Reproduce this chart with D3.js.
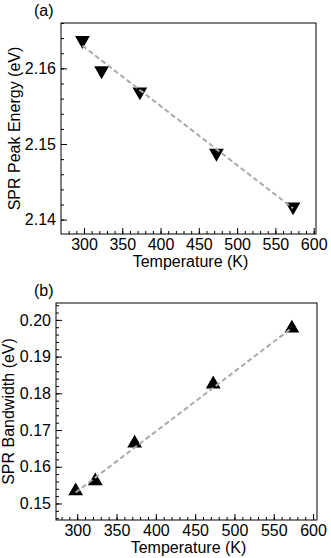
<!DOCTYPE html>
<html>
<head>
<meta charset="utf-8">
<script src="https://cdn.jsdelivr.net/npm/d3@7"></script>
<style>
  body { margin: 0; background: #fff; }
  svg text { font-family: "Liberation Sans", Arial, sans-serif; fill: #000; }
</style>
</head>
<body>
<svg id="fig" width="331" height="558"></svg>
<script>
// Data
var temps = [298, 323, 373, 473, 573];
var peakEnergy = [2.1637, 2.1597, 2.1569, 2.1488, 2.1417];
var bandwidth = [0.1534, 0.1561, 0.1664, 0.1825, 0.1977];
// Dashed fit lines (end points)
var fitPeakT = [298, 573], fitPeak = [2.1630, 2.1415];
var fitBandT = [298, 573], fitBand = [0.1530, 0.1978];
// Tick labels
var xTicks = [300, 350, 400, 450, 500, 550, 600];
var peakTicks = [2.14, 2.15, 2.16];
var bandTicks = [0.15, 0.16, 0.17, 0.18, 0.19, 0.20];

var svg = d3.select("#fig");

// Draws one panel of the figure
function drawPanel(opt) {
    var g = svg.append("g");

    var xScale = d3.scaleLinear().domain(opt.xDomain).range([opt.left, opt.right]);
    var yScale = d3.scaleLinear().domain(opt.yDomain).range([opt.bottom, opt.top]);

    // Minor ticks on x
    g.append("g")
     .attr("transform", "translate(0," + opt.bottom + ")")
     .call(d3.axisBottom(xScale).tickValues(d3.range(280, 601, 10)).tickSize(-3).tickSizeOuter(0).tickFormat(""))
     .call(function(a) { a.select(".domain").remove(); });

    // Major ticks on x
    g.append("g")
     .attr("transform", "translate(0," + opt.bottom + ")")
     .call(d3.axisBottom(xScale).tickValues(xTicks).tickSize(-6).tickSizeOuter(0).tickPadding(5))
     .call(function(a) {
         a.select(".domain").remove();
         a.selectAll("text").style("font-size", "16px");
     });

    // Minor ticks on y
    g.append("g")
     .attr("transform", "translate(" + opt.left + ",0)")
     .call(d3.axisLeft(yScale).tickValues(opt.yMinor).tickSize(-3).tickSizeOuter(0).tickFormat(""))
     .call(function(a) { a.select(".domain").remove(); });

    // Major ticks on y
    g.append("g")
     .attr("transform", "translate(" + opt.left + ",0)")
     .call(d3.axisLeft(yScale).tickValues(opt.yTicks).tickSize(-6).tickSizeOuter(0).tickPadding(5).tickFormat(d3.format(opt.yFormat)))
     .call(function(a) {
         a.select(".domain").remove();
         a.selectAll("text").style("font-size", "16px");
     });

    g.selectAll(".tick line").attr("stroke", "#000");

    // Frame
    g.append("rect")
     .attr("x", opt.left)
     .attr("y", opt.top)
     .attr("width", opt.right - opt.left)
     .attr("height", opt.bottom - opt.top)
     .attr("fill", "none")
     .attr("stroke", "#000")
     .attr("stroke-width", 1);

    // Markers
    var sym = d3.symbol().type(d3.symbolTriangle).size(95);
    g.selectAll(".pt")
     .data(opt.ys)
     .enter()
     .append("path")
     .attr("class", "pt")
     .attr("d", sym)
     .attr("transform", function(d, i) {
         return "translate(" + xScale(temps[i]) + "," + yScale(d) + ")" + (opt.down ? " rotate(180)" : "");
     })
     .attr("fill", "#000");

    // Dashed fit line, drawn over the markers
    var line = d3.line()
                 .x(function(d) { return xScale(d[0]); })
                 .y(function(d) { return yScale(d[1]); });
    g.append("path")
     .datum(d3.zip(opt.fitT, opt.fitY))
     .attr("d", line)
     .attr("fill", "none")
     .attr("stroke", "#aaaaaa")
     .attr("stroke-width", 2)
     .attr("stroke-dasharray", "5,3");

    // Axis titles
    g.append("text")
     .attr("x", (opt.left + opt.right) / 2 + 2)
     .attr("y", opt.bottom + 33)
     .attr("text-anchor", "middle")
     .style("font-size", "16px")
     .text("Temperature (K)");

    g.append("text")
     .attr("transform", "rotate(-90)")
     .attr("x", -(opt.top + opt.bottom) / 2)
     .attr("y", opt.yLabelX)
     .attr("text-anchor", "middle")
     .style("font-size", "16px")
     .text(opt.yLabel);

    // Panel letter
    g.append("text")
     .attr("x", 34)
     .attr("y", opt.top - 7)
     .style("font-size", "16px")
     .text(opt.letter);
}

drawPanel({
    letter: "(a)",
    left: 61, right: 316, top: 23, bottom: 234,
    xDomain: [270, 603],
    yDomain: [2.1381, 2.166],
    ys: peakEnergy, down: true,
    fitT: fitPeakT, fitY: fitPeak,
    yTicks: peakTicks,
    yMinor: d3.range(2.14, 2.1661, 0.002),
    yFormat: ".2f",
    yLabel: "SPR Peak Energy (eV)",
    yLabelX: 20
});

drawPanel({
    letter: "(b)",
    left: 56, right: 317, top: 303, bottom: 520,
    xDomain: [273, 605],
    yDomain: [0.1455, 0.2046],
    ys: bandwidth, down: false,
    fitT: fitBandT, fitY: fitBand,
    yTicks: bandTicks,
    yMinor: d3.range(0.146, 0.2041, 0.002),
    yFormat: ".2f",
    yLabel: "SPR Bandwidth (eV)",
    yLabelX: 14
});
</script>
</body>
</html>
